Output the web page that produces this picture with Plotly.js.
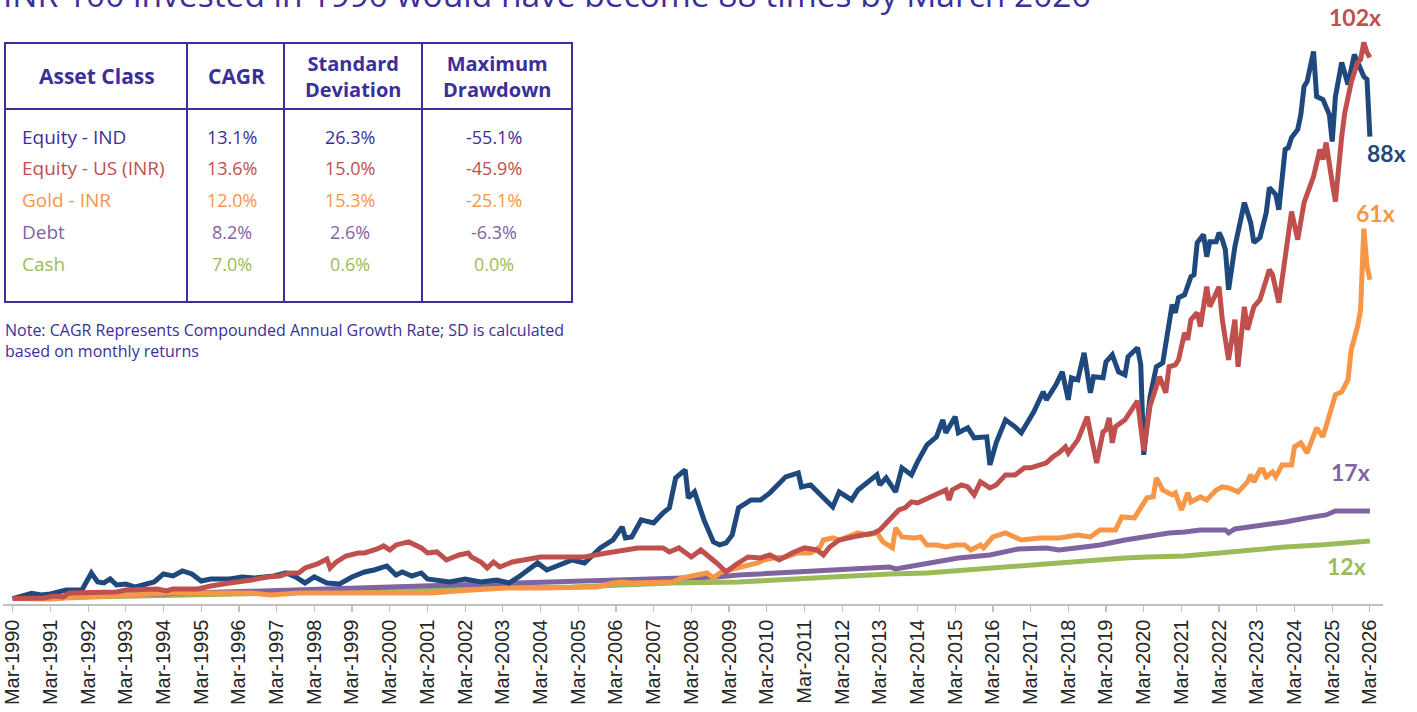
<!DOCTYPE html>
<html>
<head>
<meta charset="utf-8">
<script src="https://cdn.plot.ly/plotly-3.0.1.min.js"></script>
<style>
html,body{margin:0;padding:0;background:#fff;}
#chart{width:1417px;height:712px;}
</style>
</head>
<body>
<div id="chart"></div>
<script>
// ---------- DATA (INR 100 invested in Mar-1990) ----------
const eqIndDates = ['1990-03','1990-09','1990-12','1991-03','1991-08','1992-01','1992-04','1992-06','1992-08','1992-10','1992-12','1993-03','1993-06','1993-09','1993-12','1994-03','1994-06','1994-09','1994-12','1995-03','1995-06','1995-12','1996-04','1996-08','1997-02','1997-06','1997-09','1997-12','1998-03','1998-07','1998-11','1999-03','1999-07','1999-10','2000-02','2000-05','2000-07','2000-10','2001-01','2001-03','2001-07','2001-10','2002-03','2002-08','2003-01','2003-05','2003-08','2004-02','2004-05','2004-09','2005-01','2005-05','2005-10','2006-02','2006-05','2006-06','2006-08','2006-11','2007-03','2007-06','2007-08','2007-10','2008-01','2008-02','2008-04','2008-07','2008-10','2008-12','2009-02','2009-04','2009-06','2009-10','2010-01','2010-04','2010-09','2011-01','2011-02','2011-05','2011-09','2011-12','2012-02','2012-06','2012-08','2013-02','2013-03','2013-05','2013-08','2013-10','2014-01','2014-03','2014-06','2014-09','2014-11','2014-12','2015-03','2015-04','2015-07','2015-09','2016-01','2016-02','2016-04','2016-07','2016-10','2016-12','2017-04','2017-07','2017-08','2017-11','2018-01','2018-03','2018-04','2018-06','2018-08','2018-10','2018-11','2019-02','2019-03','2019-05','2019-07','2019-09','2019-10','2020-01','2020-02','2020-03','2020-05','2020-07','2020-09','2020-11','2020-12','2021-01','2021-02','2021-04','2021-06','2021-07','2021-08','2021-10','2021-11','2021-12','2022-02','2022-03','2022-04','2022-05','2022-06','2022-08','2022-09','2022-11','2023-01','2023-02','2023-04','2023-06','2023-07','2023-09','2023-10','2023-12','2024-01','2024-02','2024-04','2024-05','2024-06','2024-07','2024-09','2024-10','2024-12','2025-02','2025-03','2025-04','2025-06','2025-08','2025-10','2025-12','2026-01','2026-02','2026-03'];
const eqIndValues = [100,195,165,183,256,256,568,403,385,458,348,366,311,366,403,550,513,605,550,421,458,458,495,476,513,568,495,385,495,385,366,495,586,623,696,531,586,513,568,458,421,403,458,403,440,385,495,751,623,714,806,751,1026,1172,1411,1209,1227,1539,1484,1667,1759,2308,2455,1942,2052,1539,1136,1081,1118,1264,1759,1905,1905,2034,2327,2400,2143,2180,1942,1777,2052,1905,2088,2363,2180,2308,2052,2492,2363,2601,2913,3059,3371,3133,3426,3133,3224,3041,3059,2546,2950,3371,3243,3133,3517,3884,3737,4012,4250,3737,4140,4104,4598,3866,4159,4140,4433,4562,4250,4195,4525,4690,4378,2730,3792,4342,4415,5111,5478,5331,5606,5661,5991,6027,6614,6760,6357,6632,6632,6797,6668,6485,5752,6540,6852,7346,6980,6614,6705,7163,7621,7493,7218,8317,8354,8537,8684,8958,9471,9563,10113,9288,9233,8958,8464,9288,9911,9508,10058,9820,9655,9600,8555];

const eqUsDates = ['1990-03','1991-01','1991-04','1991-07','1991-09','1992-06','1992-12','1993-03','1993-07','1994-01','1994-04','1994-06','1995-02','1995-06','1995-12','1996-03','1996-07','1996-12','1997-04','1997-07','1997-10','1997-12','1998-04','1998-07','1998-08','1998-10','1999-01','1999-05','1999-07','1999-11','2000-01','2000-03','2000-05','2000-09','2000-11','2001-01','2001-03','2001-06','2001-09','2002-01','2002-04','2002-05','2002-08','2002-10','2002-12','2003-02','2003-06','2003-10','2004-03','2004-07','2005-01','2005-05','2005-12','2006-04','2006-10','2007-06','2007-08','2007-11','2008-03','2008-06','2008-09','2008-11','2009-02','2009-05','2009-09','2010-01','2010-04','2010-07','2010-11','2011-03','2011-07','2011-09','2011-11','2012-02','2012-08','2013-01','2013-03','2013-06','2013-09','2013-11','2014-01','2014-03','2014-05','2014-07','2014-09','2014-12','2015-01','2015-02','2015-05','2015-07','2015-09','2015-11','2016-02','2016-04','2016-07','2016-10','2017-01','2017-03','2017-06','2017-08','2017-10','2017-12','2018-02','2018-03','2018-06','2018-09','2018-10','2018-12','2019-02','2019-03','2019-04','2019-05','2019-06','2019-09','2020-01','2020-03','2020-05','2020-06','2020-08','2020-10','2020-11','2021-01','2021-02','2021-04','2021-05','2021-06','2021-08','2021-09','2021-11','2021-12','2022-03','2022-04','2022-06','2022-08','2022-09','2022-11','2022-12','2023-02','2023-04','2023-07','2023-08','2023-10','2023-12','2024-02','2024-04','2024-06','2024-09','2024-11','2024-12','2025-01','2025-03','2025-04','2025-06','2025-07','2025-09','2025-11','2025-12','2026-01','2026-02','2026-03'];
const eqUsValues = [100,110,147,128,201,201,220,256,256,275,238,275,275,330,385,403,440,495,513,568,568,660,733,824,660,769,879,934,934,1008,1063,989,1081,1136,1081,1026,934,953,806,898,934,861,769,660,769,678,769,806,861,861,861,861,934,971,1026,1026,953,1026,861,989,861,751,586,714,861,843,898,806,934,1026,989,898,1044,1172,1246,1301,1356,1539,1722,1759,1869,1850,1905,1942,1997,2088,1905,2088,2180,2143,1997,2235,2125,2180,2363,2363,2492,2492,2546,2583,2693,2766,2876,2766,3004,3426,3133,2583,3151,3188,3408,2950,3243,3371,3719,2803,3627,3792,4159,3866,4342,4378,4470,4965,4836,5203,5331,5075,5807,5441,5807,5203,4470,5203,4342,5441,5020,5441,5569,6119,6027,5514,6357,7181,6668,7346,7823,8317,8134,8446,7713,7365,8555,8995,9545,9911,9966,10277,10094,10003];

const goldDates = ['1990-03','1991-03','1991-08','1992-06','1993-05','1994-04','1995-02','1996-01','1996-07','1997-01','1997-10','1998-09','1999-07','2000-06','2001-04','2002-05','2003-04','2004-03','2005-01','2005-09','2006-02','2006-05','2006-08','2007-05','2007-09','2007-12','2008-05','2008-08','2008-10','2008-12','2009-03','2009-07','2009-12','2010-02','2010-05','2010-09','2011-01','2011-05','2011-08','2011-09','2011-12','2012-02','2012-05','2012-08','2012-11','2013-02','2013-04','2013-07','2013-08','2013-10','2014-02','2014-04','2014-06','2014-09','2014-12','2015-03','2015-06','2015-08','2015-11','2015-12','2016-03','2016-07','2016-12','2017-06','2017-12','2018-06','2018-10','2019-01','2019-06','2019-08','2019-12','2020-04','2020-06','2020-07','2020-09','2020-10','2020-12','2021-01','2021-03','2021-05','2021-06','2021-09','2021-11','2022-02','2022-04','2022-06','2022-09','2022-12','2023-01','2023-02','2023-04','2023-05','2023-06','2023-08','2023-09','2023-11','2024-02','2024-03','2024-05','2024-07','2024-10','2024-12','2025-02','2025-04','2025-06','2025-08','2025-09','2025-11','2025-12','2026-01','2026-02','2026-03'];
const goldValues = [100,90,110,128,165,201,201,220,201,165,201,201,201,183,201,256,293,293,293,311,385,403,385,385,403,476,531,568,476,568,623,678,751,806,843,861,934,934,1044,1172,1209,1172,1227,1301,1264,1301,1136,1026,1392,1227,1209,1227,1081,1081,1044,1081,1081,989,1081,1026,1227,1301,1172,1209,1209,1264,1227,1356,1356,1594,1576,1942,1960,2308,2088,2052,1997,2034,1722,2034,1869,1960,1905,2088,2143,2125,2052,2235,2363,2235,2455,2455,2327,2418,2327,2546,2546,2876,2950,2766,3224,3059,3499,3829,3884,4104,4653,5075,5386,6870,6191,5936];

const debtDates = ['1990-03','1993-03','1996-03','1998-03','2001-07','2003-05','2005-05','2007-05','2008-06','2008-11','2009-06','2010-05','2011-03','2012-02','2012-08','2013-06','2013-08','2014-06','2015-04','2016-02','2016-11','2017-08','2017-12','2018-08','2019-01','2019-09','2020-03','2020-07','2020-11','2021-04','2021-09','2022-05','2022-06','2022-08','2023-01','2023-07','2023-12','2024-07','2025-01','2025-04','2025-09','2026-02','2026-03'];
const debtValues = [100,165,220,270,348,385,421,458,476,495,531,568,586,623,660,678,641,751,843,898,1008,1026,989,1044,1081,1172,1227,1282,1301,1319,1356,1356,1301,1374,1411,1447,1502,1576,1630,1704,1704,1722,1704];

const cashDates = ['1990-03','1993-03','1996-03','1999-03','2001-07','2005-01','2006-06','2007-09','2009-06','2010-05','2011-03','2012-02','2013-06','2014-06','2016-02','2017-12','2019-09','2020-04','2021-04','2022-03','2023-01','2023-12','2024-11','2025-09','2026-03'];
const cashValues = [100,137,183,238,293,311,348,385,403,440,476,495,550,568,660,751,843,861,879,934,989,1044,1081,1136,1154];

const seriesNames = ['Equity - IND','Equity - US (INR)','Gold - INR','Debt','Cash'];
const endLabels = ['88x','102x','61x','17x','12x'];

// table
const tableHeaders = ['Asset Class','CAGR','Standard<br>Deviation','Maximum<br>Drawdown'];
const tableAssets = ['Equity - IND','Equity - US (INR)','Gold - INR','Debt','Cash'];
const tableCagr = ['13.1%','13.6%','12.0%','8.2%','7.0%'];
const tableSd = ['26.3%','15.0%','15.3%','2.6%','0.6%'];
const tableMdd = ['-55.1%','-45.9%','-25.1%','-6.3%','0.0%'];

const titleText = 'INR 100 invested in 1990 would have become 88 times by March 2026';
const noteText = 'Note: CAGR Represents Compounded Annual Growth Rate; SD is calculated<br>based on monthly returns';

// ---------- STYLE ----------
const colors = {ind:'#1f497d', us:'#c0504d', gold:'#f79646', debt:'#8064a2', cash:'#9bbb59'};
const textColors = ['#3b2f9a','#c0504d','#f79646','#8064a2','#9bbb59'];
const ink = '#3b2f9a';
const FONT = 'Open Sans, Noto Sans, sans-serif';

const L = 3, T = 3, W = 1380, H = 601;
const X = px => (px - L) / W;
const Y = py => (T + H - py) / H;

function line(x, y, color, name) {
  return {type:'scatter', mode:'lines', x:x, y:y, name:name,
    line:{color:color, width:5}, hoverinfo:'skip', showlegend:false};
}

const traces = [
  line(cashDates, cashValues, colors.cash, seriesNames[4]),
  line(debtDates, debtValues, colors.debt, seriesNames[3]),
  line(goldDates, goldValues, colors.gold, seriesNames[2]),
  line(eqIndDates, eqIndValues, colors.ind, seriesNames[0]),
  line(eqUsDates, eqUsValues, colors.us, seriesNames[1])
];

const shapes = [];
const lc = {color:ink, width:2};
shapes.push({type:'rect', xref:'paper', yref:'paper', x0:X(5), x1:X(572), y0:Y(43), y1:Y(302), line:lc});
shapes.push({type:'line', xref:'paper', yref:'paper', x0:X(5), x1:X(572), y0:Y(109), y1:Y(109), line:lc});
[187, 284, 422].forEach(cx => shapes.push({type:'line', xref:'paper', yref:'paper', x0:X(cx), x1:X(cx), y0:Y(43), y1:Y(302), line:lc}));

const ann = [];
function txt(text, px, py, opt) {
  opt = opt || {};
  ann.push({xref:'paper', yref:'paper', x:X(px), y:Y(py), text:text, showarrow:false,
    xanchor:opt.xanchor || 'center', yanchor:opt.yanchor || 'middle', align:opt.align || 'center',
    font:{family:opt.family || FONT, size:opt.size || 17, color:opt.color || ink, weight:opt.weight || 400}});
}
// title (clipped at top as in reference)
txt(titleText, 1, -6, {xanchor:'left', size:33.5, color:ink});
// header
const headX = [97, 236, 353, 497];
tableHeaders.forEach((h, i) => txt('<b>' + h + '</b>', headX[i], 76, {size: i < 2 ? 21 : 20}));
const rowY = [137, 168, 200, 232, 264];
tableAssets.forEach((a, i) => {
  txt(a, 20, rowY[i], {xanchor:'left', color:textColors[i], size:19});
  txt(tableCagr[i], 232, rowY[i], {color:textColors[i], size:18});
  txt(tableSd[i], 350, rowY[i], {color:textColors[i], size:18});
  txt(tableMdd[i], 494, rowY[i], {color:textColors[i], size:18});
});
txt(noteText, 3, 341, {xanchor:'left', align:'left', size:16});
// end labels
const LFONT = 'Lato, Open Sans, sans-serif';
const endPos = [[1386,153],[1355,17],[1375,213],[1350,472],[1346,566]];
const endCol = [colors.ind, colors.us, colors.gold, colors.debt, colors.cash];
endLabels.forEach((t, i) => txt('<b>' + t + '</b>', endPos[i][0], endPos[i][1], {size:23, color:endCol[i], family:LFONT}));

const layout = {
  width:1417, height:712,
  margin:{l:L, r:1417 - L - W, t:T, b:712 - T - H, pad:0},
  paper_bgcolor:'#ffffff', plot_bgcolor:'#ffffff',
  font:{family:FONT},
  xaxis:{type:'date', range:['1989-11-27','2026-07-06'], tick0:'1990-03-01', dtick:'M12',
    tickformat:'%b-%Y', tickangle:-90, ticks:'outside', ticklen:6, tickwidth:1.2, tickcolor:'#bfbfbf',
    showline:true, linecolor:'#bfbfbf', linewidth:1.5, showgrid:false, zeroline:false,
    tickfont:{family:'Liberation Sans, Arial, sans-serif', size:20, color:'#262626'}, fixedrange:true},
  yaxis:{range:[0, 11000], visible:false, showgrid:false, zeroline:false, fixedrange:true},
  shapes:shapes, annotations:ann, showlegend:false
};

Plotly.newPlot('chart', traces, layout, {displayModeBar:false, staticPlot:true});
</script>
</body>
</html>
